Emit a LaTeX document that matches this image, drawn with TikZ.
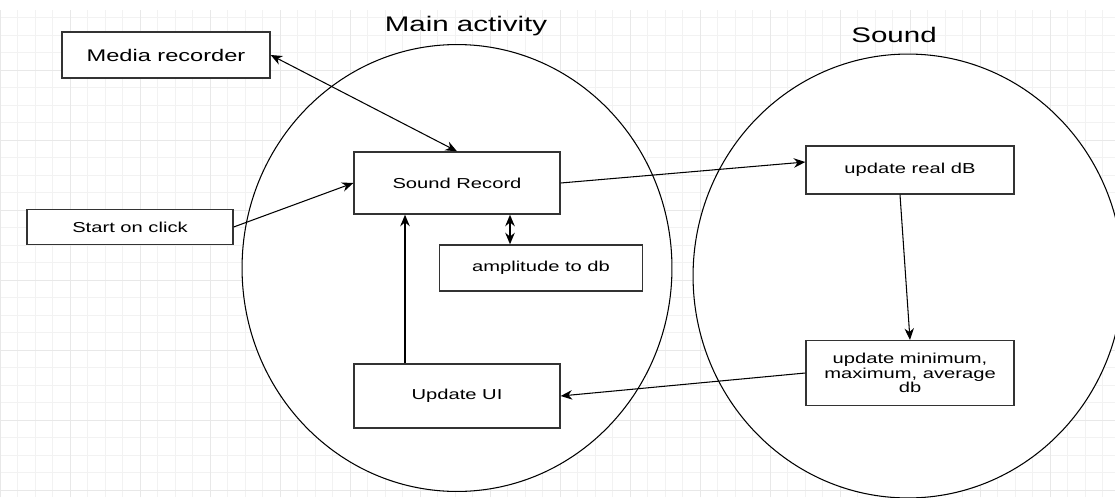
\documentclass[tikz,border=0pt]{standalone}
\usepackage{fontspec}
\setmainfont[FakeStretch=1.4]{Liberation Sans}
\usetikzlibrary{arrows.meta, shapes.geometric}
\tikzset{
  block/.style={draw=black!80, line width=0.8pt, fill=white, align=center, inner sep=1pt,
      font=\fontsize{8.2}{8.4}\selectfont},
  zone/.style={draw, line width=0.6pt, fill=white, ellipse, inner sep=0pt},
  zonetitle/.style={font=\fontsize{12}{14}\selectfont},
  link/.style={line width=0.6pt, -{Stealth[length=2.3mm, width=1.9mm]}},
  twoway/.style={line width=0.6pt, {Stealth[length=2.3mm, width=1.9mm]}-{Stealth[length=2.3mm, width=1.9mm]}},
}

\begin{document}
\begin{tikzpicture}[x=0.02cm, y=-0.02cm]
  \useasboundingbox (0,0) rectangle (1115,497);
  \clip (0,0) rectangle (1115,497);
  \draw[line width=0.3pt, black!5, step=0.35cm] (0,10) grid (1115,497);
  \draw[line width=0.3pt, black!9, step=1.4cm] (0,10) grid (1115,497);
  \node[zone, minimum width=8.6cm, minimum height=8.94cm] (mainzone) at (457,268) {};
  \node[zone, minimum width=8.6cm, minimum height=8.88cm] (soundzone) at (908,276) {};
  \node[zonetitle] (maintitle) at (466,26) {Main activity};
  \node[zonetitle] (soundtitle) at (894,35) {Sound};

  \node[block, minimum width=4.16cm, minimum height=0.92cm, font=\fontsize{9.6}{11}\selectfont] (media) at (166,55) {Media recorder};
  \node[block, minimum width=4.12cm, minimum height=1.24cm] (record) at (457,183) {Sound Record};
  \node[block, minimum width=4.12cm, minimum height=0.70cm] (start) at (130,227) {Start on click};
  \node[block, minimum width=4.06cm, minimum height=0.92cm] (ampdb) at (541,268) {amplitude to db};
  \node[block, minimum width=4.12cm, minimum height=1.28cm] (updui) at (457,396) {Update UI};
  \node[block, minimum width=4.16cm, minimum height=0.96cm] (realdb) at (910,170) {update real dB};
  \node[block, minimum width=4.16cm, minimum height=1.30cm] (stats) at (910,373) {update minimum,\\maximum, average\\db};

  \draw[twoway] (media.east) -- (record.north);
  \draw[link] (start.east) -- (record.west);
  \draw[link] (record.east) -- ([yshift=0.16cm]realdb.west);
  \draw[twoway, line width=0.9pt] ([xshift=-0.62cm]ampdb.north) -- ([xshift=1.06cm]record.south);
  \draw[link, line width=0.9pt] ([xshift=-1.04cm]updui.north) -- ([xshift=-1.04cm]record.south);
  \draw[link] ([xshift=-0.2cm]realdb.south) -- (stats.north);
  \draw[link] (stats.west) -- (updui.east);
\end{tikzpicture}
\end{document}
